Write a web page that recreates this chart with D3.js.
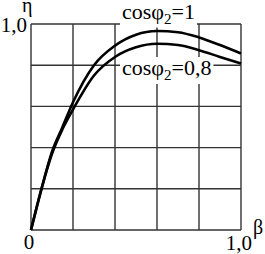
<!DOCTYPE html>
<html>
<head>
<meta charset="utf-8">
<script src="https://cdn.jsdelivr.net/npm/d3@7"></script>
<style>
  body { margin: 0; background: #fff; }
</style>
</head>
<body>
<svg id="chart" width="265" height="254" font-family="'Liberation Serif', 'Times New Roman', serif"></svg>
<script>
// load factor beta
const beta = [0, 0.05, 0.1, 0.15, 0.2, 0.3, 0.4, 0.5, 0.6, 0.7, 0.8, 0.9, 1.0];
// efficiency for cos(phi2) = 1
const etaCos1 = [0, 0.2, 0.38, 0.5, 0.62, 0.8, 0.895, 0.948, 0.966, 0.96, 0.935, 0.898, 0.857];
// efficiency for cos(phi2) = 0.8
const etaCos08 = [0, 0.2, 0.37, 0.49, 0.585, 0.75, 0.84, 0.887, 0.904, 0.898, 0.873, 0.84, 0.808];
const gridTicks = [0, 0.2, 0.4, 0.6, 0.8, 1.0];

const svg = d3.select('#chart');
const x = d3.scaleLinear().domain([0, 1]).range([31, 241]);
const y = d3.scaleLinear().domain([0, 1]).range([230, 24]);

// grid
const grid = svg.append('g').attr('stroke', '#333').attr('stroke-width', 1.4);
grid.selectAll('line.v').data(gridTicks).enter().append('line')
  .attr('x1', d => x(d)).attr('x2', d => x(d))
  .attr('y1', y(0)).attr('y2', y(1));
grid.selectAll('line.h').data(gridTicks).enter().append('line')
  .attr('y1', d => y(d)).attr('y2', d => y(d))
  .attr('x1', x(0)).attr('x2', x(1));

// curve labels with white backing
function label(parts, xPos, yPos) {
  const bg = svg.append('rect').attr('fill', '#fff');
  const t = svg.append('text').attr('x', xPos).attr('y', yPos).attr('font-size', 22);
  t.append('tspan').text(parts[0]);
  t.append('tspan').attr('font-size', 15).attr('dy', 5).text('2');
  t.append('tspan').attr('dy', -5).text(parts[1]);
  const b = t.node().getBBox();
  bg.attr('x', b.x - 2).attr('y', b.y + 2).attr('width', b.width + 4).attr('height', b.height - 1);
}
label(['cosφ', '=1'], 122, 18.5);
label(['cosφ', '=0,8'], 122, 75);

const line = d3.line().x((d, i) => x(beta[i])).y(d => y(d)).curve(d3.curveMonotoneX);
svg.append('path').datum(etaCos1).attr('d', line)
  .attr('fill', 'none').attr('stroke', '#000').attr('stroke-width', 2.6);
svg.append('path').datum(etaCos08).attr('d', line)
  .attr('fill', 'none').attr('stroke', '#000').attr('stroke-width', 2.6);

// axis texts
svg.append('text').attr('x', x(0) - 4).attr('y', y(1) + 7.5).attr('text-anchor', 'end')
  .attr('font-size', 21).text('1,0');
svg.append('text').attr('x', 22).attr('y', 12).attr('font-size', 20).text('η');
svg.append('text').attr('x', x(0) - 2).attr('y', 249).attr('text-anchor', 'middle')
  .attr('font-size', 21).text('0');
svg.append('text').attr('x', x(1) + 11).attr('y', 250).attr('text-anchor', 'end')
  .attr('font-size', 21).text('1,0');
svg.append('text').attr('x', 253).attr('y', 234).attr('font-size', 20).text('β');
</script>
</body>
</html>
